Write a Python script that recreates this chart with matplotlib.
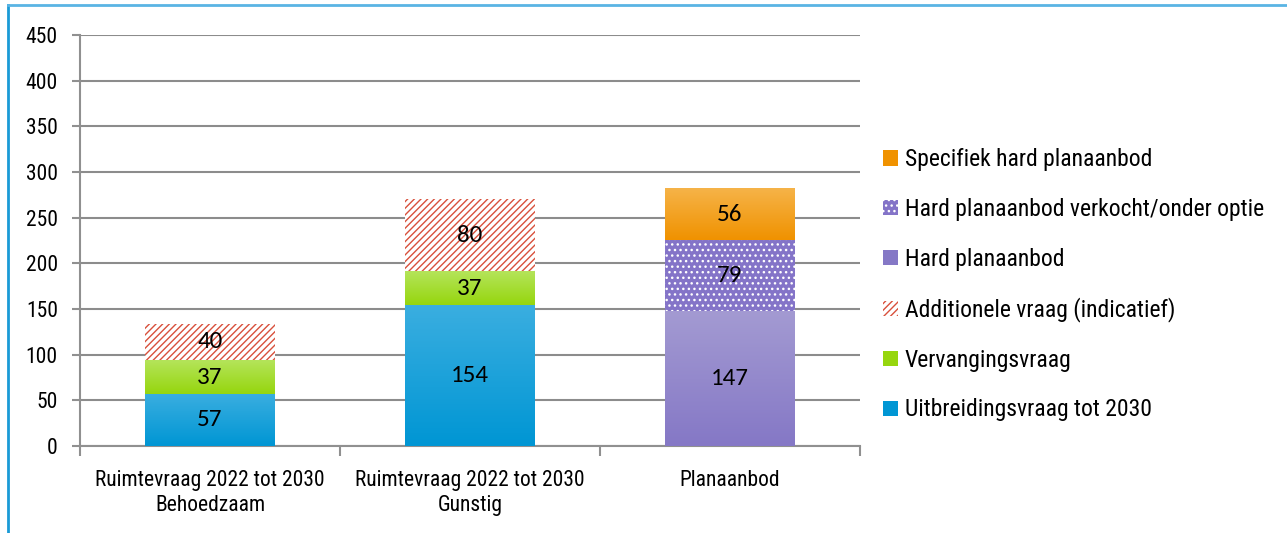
import numpy as np
import matplotlib.pyplot as plt
from matplotlib.lines import Line2D
from matplotlib.colors import LinearSegmentedColormap

plt.rcParams['hatch.linewidth'] = 1.0

categories = ['Ruimtevraag 2022 tot 2030\nBehoedzaam', 'Ruimtevraag 2022 tot 2030\nGunstig', 'Planaanbod']
uitbreiding = [57, 154, 0]
vervanging = [37, 37, 0]
additioneel = [40, 80, 0]
hard = [0, 0, 147]
hard_optie = [0, 0, 79]
specifiek = [0, 0, 56]
y_ticks = [0, 50, 100, 150, 200, 250, 300, 350, 400, 450]

label_font = ['Roboto Condensed', 'DejaVu Sans']
value_font = ['Carlito', 'DejaVu Sans']

fig = plt.figure(figsize=(12.87, 5.33), dpi=100)
ax = fig.add_axes([0.0622, 0.1632, 0.6058, 0.7711])

x = np.arange(len(categories))
width = 0.5

# series: (values, label, top colour, bottom colour, hatch, hatch colour)
series = [
    (uitbreiding, 'Uitbreidingsvraag tot 2030', '#3aaee0', '#0096d4', None, None),
    (vervanging, 'Vervangingsvraag', '#b4e45a', '#96d60e', None, None),
    (additioneel, 'Additionele vraag (indicatief)', '#ffffff', '#ffffff', '/////', '#d8503c'),
    (hard, 'Hard planaanbod', '#a39ad2', '#8578c6', None, None),
    (hard_optie, 'Hard planaanbod verkocht/onder optie', '#8474c8', '#8474c8', '...', '#ffffff'),
    (specifiek, 'Specifiek hard planaanbod', '#f6b348', '#f09200', None, None),
]

bottom = np.zeros(len(categories))
handles = []
for vals, name, top_c, bot_c, hatch, hcol in series:
    vals = np.array(vals, dtype=float)
    if hatch:
        bars = ax.bar(x, vals, width, bottom=bottom, color=top_c, edgecolor=hcol,
                      hatch=hatch, linewidth=0, zorder=3, label=name)
    else:
        bars = ax.bar(x, vals, width, bottom=bottom, color=bot_c, linewidth=0,
                      zorder=3, label=name)
        cmap = LinearSegmentedColormap.from_list('g', [bot_c, top_c])
        grad = np.linspace(0, 1, 64).reshape(-1, 1)
        for b in bars:
            if b.get_height() <= 0:
                continue
            x0, y0 = b.get_x(), b.get_y()
            ax.imshow(grad, cmap=cmap, origin='lower', aspect='auto', zorder=3.1,
                      extent=(x0, x0 + b.get_width(), y0, y0 + b.get_height()))
    for b, v in zip(bars, vals):
        if v > 0:
            ax.text(b.get_x() + b.get_width() / 2, b.get_y() + v / 2, f'{v:.0f}',
                    ha='center', va='center', fontsize=18, family=value_font, zorder=5)
    handles.append(bars)
    bottom += vals

ax.set_xlim(-0.5, 2.5)
ax.set_ylim(0, 450)
ax.set_yticks(y_ticks)
ax.set_yticklabels([str(t) for t in y_ticks], family=label_font, fontsize=15.5)
ax.set_xticks(x)
ax.set_xticklabels(categories, family=label_font, fontsize=15.5, linespacing=1.3)
ax.set_xticks([-0.5, 0.5, 1.5, 2.5], minor=True)
ax.tick_params(axis='x', which='major', length=0, pad=17)
ax.tick_params(axis='x', which='minor', length=7, width=1.5, color='#909090')
ax.tick_params(axis='y', length=6, width=1.5, color='#909090', pad=10)
ax.grid(axis='y', color='#8c8c8c', linewidth=1.5, zorder=0)
ax.set_axisbelow(True)
for s in ['top', 'right']:
    ax.spines[s].set_visible(False)
for s in ['left', 'bottom']:
    ax.spines[s].set_color('#909090')
    ax.spines[s].set_linewidth(1.5)

leg = fig.legend(handles[::-1], [s[1] for s in series][::-1], loc='upper left',
                 bbox_to_anchor=(0.686, 0.722), frameon=False, borderpad=0,
                 borderaxespad=0, handlelength=0.62, handleheight=0.62,
                 handletextpad=0.3, labelspacing=1.13,
                 prop={'family': label_font, 'size': 17})

# blue frame lines
fig.add_artist(Line2D([0.0062, 0.0062], [0.0, 0.99], color='#1a9ad6', linewidth=2))
fig.add_artist(Line2D([0.0062, 1.0], [0.99, 0.99], color='#5ab4e4', linewidth=2))

fig.savefig('out.png', dpi=100)
